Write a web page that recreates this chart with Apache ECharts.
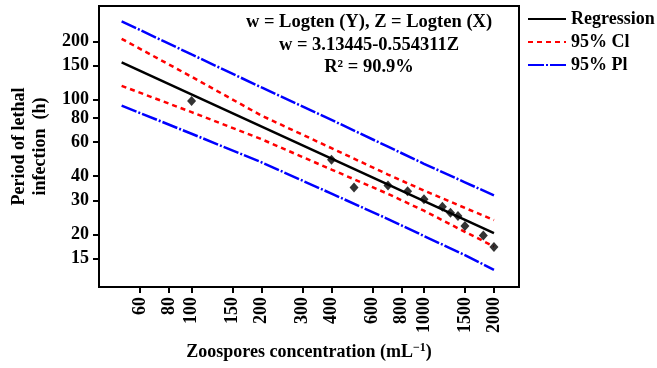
<!DOCTYPE html>
<html><head><meta charset="utf-8">
<script src="https://cdn.jsdelivr.net/npm/echarts@6/dist/echarts.min.js"></script>
<style>html,body{margin:0;padding:0;background:#fff}#c{width:657px;height:368px}</style>
</head><body><div id="c"></div>
<script>
// Tick labels
const xTicks = [60, 80, 100, 150, 200, 300, 400, 600, 800, 1000, 1500, 2000];
const yTicks = [15, 20, 30, 40, 60, 80, 100, 150, 200];
// Observed points
const obsX = [100, 400, 500, 700, 850, 1000, 1200, 1300, 1400, 1500, 1800, 2000];
const obsY = [98, 48.7, 35, 35.8, 33.4, 30.4, 27.8, 25.9, 24.9, 22.1, 19.7, 17.2];
// Regression line
const regX = [50, 2000];
const regY = [155.6, 20.3];
// Confidence / prediction bands
const bandX = [50, 100, 200, 400, 700, 1000, 1500, 2000];
const ciUpper = [206, 131, 82.4, 55.9, 40.8, 33.7, 27.4, 23.7];
const ciLower = [117.6, 85.9, 62.2, 43.3, 32.4, 26.5, 20.6, 17.3];
const piUpper = [254, 171, 115.3, 78.3, 56.9, 46.4, 37.2, 31.8];
const piLower = [92.9, 66.4, 47.2, 32.5, 24.0, 19.6, 15.6, 13.1];
// Texts
const legendNames = ['Regression', '95% Cl', '95% Pl'];
const eqLines = ['w = Logten (Y), Z = Logten (X)', 'w = 3.13445-0.554311Z', 'R\u00B2 = 90.9%'];
const xTitle = 'Zoospores concentration (mL';
const yTitle = 'Period of lethal\ninfection  (h)';

const L = Math.log10;
const pairs = (xs, ys) => xs.map((x, i) => [L(x), L(ys[i])]);
const FONT = 'Liberation Serif';
const fmt = v => String(Math.round(Math.pow(10, v)));

const chart = echarts.init(document.getElementById('c'), null, {renderer: 'canvas'});
const lineSeries = (name, xs, ys, color, type, width) => ({
  name, type: 'line', data: pairs(xs, ys), symbol: 'none', showSymbol: false,
  lineStyle: {color, width, type}, itemStyle: {color}, silent: true, z: 3
});

chart.setOption({
  animation: false,
  backgroundColor: '#fff',
  grid: {left: 99, right: 138, top: 6, bottom: 81, show: true, borderColor: '#000', borderWidth: 2},
  xAxis: {
    type: 'value', min: 1.6016, max: 3.4088,
    axisLine: {onZero: false, lineStyle: {color: '#000', width: 2}},
    axisTick: {customValues: xTicks.map(L), length: 6, lineStyle: {color: '#000', width: 2}},
    axisLabel: {customValues: xTicks.map(L), formatter: fmt, rotate: 90, margin: 10,
      fontFamily: FONT, fontSize: 18, fontWeight: 'bold', color: '#000'},
    splitLine: {show: false},
    name: '{a|' + xTitle + '}{s|\u22121}{a|)}', nameLocation: 'middle', nameGap: 55,
    nameTextStyle: {rich: {
      a: {fontFamily: FONT, fontSize: 18, fontWeight: 'bold', color: '#000'},
      s: {fontFamily: FONT, fontSize: 12, fontWeight: 'bold', color: '#000', verticalAlign: 'top', padding: [0, 0, 8, 0]}
    }}
  },
  yAxis: {
    type: 'value', min: 1.028, max: 2.484,
    axisLine: {onZero: false, lineStyle: {color: '#000', width: 2}},
    axisTick: {customValues: yTicks.map(L), length: 6, lineStyle: {color: '#000', width: 2}},
    axisLabel: {customValues: yTicks.map(L), formatter: fmt, margin: 10,
      fontFamily: FONT, fontSize: 18, fontWeight: 'bold', color: '#000'},
    splitLine: {show: false},
    name: yTitle, nameLocation: 'middle', nameGap: 45,
    nameTextStyle: {fontFamily: FONT, fontSize: 18, fontWeight: 'bold', color: '#000', lineHeight: 21}
  },
  legend: {
    orient: 'vertical', left: 522, top: 5, itemWidth: 38, itemHeight: 14, itemGap: 5,
    data: legendNames,
    itemStyle: {opacity: 0},
    textStyle: {fontFamily: FONT, fontSize: 18, fontWeight: 'bold', color: '#000'}
  },
  graphic: [{
    type: 'text', x: 369, y: 11, z: 10,
    style: {text: eqLines.join('\n'), textAlign: 'center', textVerticalAlign: 'top',
      font: 'bold 18.5px "Liberation Serif"', fill: '#000', lineHeight: 22.5}
  }],
  series: [
    lineSeries(legendNames[2], bandX, piUpper, '#0000ff', [16, 2, 2, 2], 2.5),
    lineSeries(legendNames[2], bandX, piLower, '#0000ff', [16, 2, 2, 2], 2.5),
    lineSeries(legendNames[1], bandX, ciUpper, '#ff0000', [5, 4], 2.5),
    lineSeries(legendNames[1], bandX, ciLower, '#ff0000', [5, 4], 2.5),
    lineSeries(legendNames[0], regX, regY, '#000000', 'solid', 2.5),
    {name: 'Observed', type: 'scatter', data: pairs(obsX, obsY), symbol: 'diamond',
      symbolSize: [9, 10], itemStyle: {color: '#000'}, z: 5}
  ]
});
</script></body></html>
